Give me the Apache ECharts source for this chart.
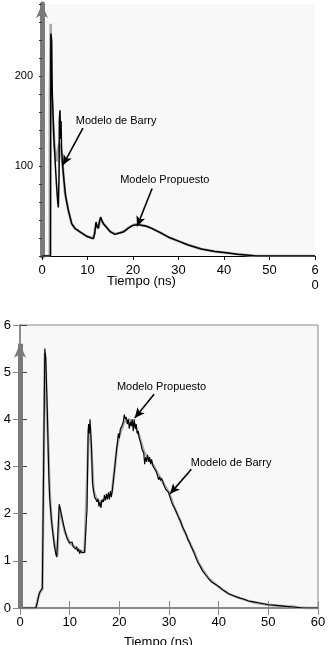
<!DOCTYPE html>
<html>
<head>
<meta charset="utf-8">
<script src="https://cdn.jsdelivr.net/npm/echarts@6/dist/echarts.min.js"></script>
<style>
  html, body { margin: 0; padding: 0; background: #fff; }
  #chart { width: 330px; height: 645px; }
</style>
</head>
<body>
<div id="chart"></div>
<script>
// panel superior: [tiempo (ns), valor]
const topBarry = [[0,0],[1.88,0],[1.95,247],[2.12,240],[2.2,200],[2.27,180],[2.64,128],[3.0,95],[3.23,76],[3.45,60],[3.59,54],[3.75,90],[3.81,150],[3.96,162],[4.05,130],[4.18,150],[4.3,120],[4.54,100],[4.83,84],[5.2,66],[5.78,51],[6.52,36],[7.25,30.6],[8.35,26.7],[9.8,22],[11.28,19.3],[11.6,25],[11.87,37.8],[12.1,33],[12.38,30.6],[12.6,38],[12.89,43.3],[13.1,40],[13.48,35.9],[14,33],[15,27],[16,24],[17,25.5],[18,27],[19,31],[20,34],[21,35],[22,34],[23,33],[24,31],[26,26],[28,20.5],[30,16.5],[32,12.5],[35,7.8],[38,5],[40,4],[43,2],[46,0.6],[47,0],[60,0]]
const topPropuesto = [[0,0],[1.7,0],[1.72,175],[1.85,175],[1.92,258],[2.05,185],[2.4,150],[2.8,118],[3.2,105],[3.5,118],[3.8,125],[4.0,125],[4.3,110],[4.6,98],[5.0,72],[5.78,51],[6.52,36],[7.25,30.6],[8.35,26.7],[9.8,22],[11.28,19.5],[11.9,36],[12.4,31],[12.9,42],[13.5,36],[14,33],[15,27],[16,24.5],[17,25.5],[18,27.5],[19,31.5],[20,34.5],[21,35.5],[22,34.5],[23,33],[24,31],[26,26],[28,20.5],[30,16.5],[32,12.5],[35,7.8],[38,5],[40,4],[43,2],[46,0.6],[47,0],[60,0]]

// panel inferior
const botBarry = [[0,0],[3.2,0],[3.5,0.12],[3.8,0.28],[4.1,0.36],[4.5,0.42],[4.9,0.45],[5.0,5.5],[5.2,5.3],[5.35,4.7],[5.5,4.2],[5.6,3.7],[5.8,2.8],[6.0,2.3],[6.3,1.9],[6.6,1.6],[6.9,1.35],[7.2,1.15],[7.4,1.08],[7.6,1.12],[7.75,1.08],[7.9,2.2],[8.2,2.05],[8.5,1.9],[8.8,1.75],[9.1,1.62],[9.4,1.5],[9.7,1.43],[10.0,1.38],[10.3,1.35],[10.5,1.4],[10.7,1.3],[11.0,1.33],[11.2,1.25],[11.4,1.3],[11.6,1.2],[11.8,1.25],[12.0,1.15],[12.2,1.22],[12.4,1.17],[12.6,1.2],[12.8,1.15],[13.0,1.18],[13.2,1.15],[13.35,1.2],[13.5,2.1],[13.7,3.6],[13.8,3.9],[13.95,3.7],[14.1,4.0],[14.25,3.7],[14.4,3.4],[14.6,2.65],[14.8,2.5],[15.0,2.35],[15.3,2.3],[15.5,2.25],[15.7,2.32],[15.9,2.15],[16.1,2.25],[16.3,2.12],[16.5,2.3],[16.8,2.25],[17.0,2.4],[17.2,2.28],[17.4,2.42],[17.6,2.3],[17.8,2.45],[18.0,2.3],[18.2,2.48],[18.4,2.35],[18.6,2.5],[18.9,2.8],[19.2,3.1],[19.5,3.4],[19.8,3.7],[20.0,3.6],[20.2,3.8],[20.5,3.85],[20.8,3.95],[21.0,4.1],[21.2,4.0],[21.4,4.05],[21.6,3.9],[21.8,4.0],[22.0,3.8],[22.2,3.95],[22.4,3.85],[22.6,4.0],[22.8,3.75],[23.0,4.0],[23.2,3.8],[23.4,3.9],[23.6,3.7],[23.8,3.75],[24.0,3.6],[24.3,3.5],[24.6,3.35],[24.9,3.3],[25.1,3.05],[25.3,3.2],[25.5,3.1],[25.7,3.25],[25.9,3.1],[26.1,3.2],[26.3,3.05],[26.5,3.15],[26.8,3.0],[27.1,3.0],[27.4,2.9],[27.7,2.8],[27.9,2.72],[28.1,2.78],[28.3,2.7],[28.5,2.75],[28.7,2.7],[29.0,2.6],[29.3,2.52],[29.6,2.48],[29.9,2.45],[30.2,2.35],[30.5,2.25],[30.8,2.18],[31.1,2.12],[31.4,2.05],[31.7,1.98],[32.0,1.9],[32.3,1.85],[32.6,1.75],[32.9,1.68],[33.2,1.62],[33.5,1.55],[33.8,1.45],[34.1,1.4],[34.4,1.32],[34.7,1.25],[35.0,1.18],[35.3,1.1],[35.6,1.02],[35.9,0.95],[36.2,0.9],[36.5,0.84],[36.8,0.78],[37.1,0.75],[37.4,0.7],[37.7,0.66],[38.0,0.62],[38.3,0.6],[38.6,0.55],[39.0,0.52],[39.4,0.5],[39.8,0.46],[40.2,0.44],[40.6,0.4],[41.0,0.37],[41.5,0.34],[42.0,0.3],[42.5,0.28],[43.0,0.26],[43.5,0.24],[44.0,0.22],[44.5,0.2],[45.0,0.19],[45.5,0.17],[46.0,0.15],[47.0,0.13],[48.0,0.11],[49.0,0.09],[50.0,0.07],[51.0,0.06],[52.0,0.05],[53.0,0.04],[54.0,0.03],[55.0,0.02],[56.0,0.01],[57.0,0],[60,0]]
const botPropuesto = [[0,0],[3.2,0],[3.6,0.2],[4.0,0.33],[4.5,0.4],[4.9,0.44],[5.0,5.4],[5.2,5.0],[5.4,4.3],[5.7,3.4],[6.0,2.4],[6.4,1.8],[7.0,1.3],[7.5,1.1],[7.8,1.1],[7.95,2.15],[8.5,1.85],[9.0,1.62],[10,1.38],[11,1.3],[12,1.22],[13,1.18],[13.4,1.2],[13.6,3.0],[13.8,3.8],[14.1,3.85],[14.4,3.3],[14.8,2.5],[15.5,2.28],[16.5,2.25],[17.5,2.35],[18.5,2.45],[19.0,2.9],[19.5,3.4],[20,3.65],[21,3.95],[22,4.0],[23,3.92],[24,3.65],[25,3.3],[26,3.15],[27,3.0],[28,2.8],[29,2.62],[30,2.45],[31,2.15],[32,1.92],[33,1.65],[34,1.42],[35,1.2],[36,0.95],[37,0.77],[38,0.63],[39,0.53],[40,0.45],[42,0.3],[44,0.22],[46,0.15],[48,0.1],[50,0.07],[52,0.05],[54,0.03],[55,0.03],[56,0.01],[58,0],[60,0]]

// anotaciones: [texto, posición del texto, inicio flecha, punta flecha]
const topNotes = [
  ['Modelo de Barry', [16.3, 150], [9.0, 142], [4.6, 101]],
  ['Modelo Propuesto', [27, 84], [24.2, 75], [20.9, 33]]
]
const botNotes = [
  ['Modelo Propuesto', [28.5, 4.69], [27.0, 4.53], [23.1, 4.03]],
  ['Modelo de Barry', [42.5, 3.08], [34.5, 2.94], [30.2, 2.42]]
]
const botArrow = [[0, 0], [0, 5.6]]

const FONT = 'Liberation Sans'

const noteMarks = (notes) => ({
  markLine: {
    silent: true,
    symbol: ['none', 'arrow'],
    symbolSize: [7, 10],
    label: { show: false },
    lineStyle: { color: '#000', width: 1.6, type: 'solid' },
    data: notes.map(n => [{ coord: n[2] }, { coord: n[3] }]),
  },
  markPoint: {
    silent: true,
    symbol: 'circle',
    symbolSize: 0,
    label: {
      show: true,
      position: 'inside',
      color: '#000',
      fontFamily: FONT,
      fontSize: 11,
      formatter: p => p.name,
    },
    data: notes.map(n => ({ name: n[0], coord: n[1] })),
  },
})

const chart = echarts.init(document.getElementById('chart'), null, { renderer: 'canvas' })

chart.setOption({
  animation: false,
  backgroundColor: '#fff',
  textStyle: { fontFamily: FONT },
  grid: [
    { left: 42, top: 4, width: 273, height: 252, show: true, backgroundColor: '#f8f8f8', borderWidth: 0 },
    { left: 20, top: 325, width: 298, height: 283, show: true, backgroundColor: '#f8f8f8', borderColor: '#8a8a8a', borderWidth: 1 },
  ],
  xAxis: [
    {
      gridIndex: 0, type: 'value', min: 0, max: 60, interval: 10,
      axisLine: { lineStyle: { color: '#000', width: 1 } },
      axisTick: { show: true, length: 4, lineStyle: { color: '#000' } },
      axisLabel: {
        color: '#000', fontSize: 13, margin: 7, lineHeight: 15,
        formatter: v => (v === 60 ? '6\n0' : String(v)),
      },
      splitLine: { show: false },
    },
    {
      gridIndex: 1, type: 'value', min: 0, max: 60, interval: 10,
      axisLine: { lineStyle: { color: '#8a8a8a', width: 2 } },
      axisTick: { show: true, inside: true, length: 7, lineStyle: { color: '#8a8a8a' } },
      axisLabel: { color: '#000', fontSize: 13, margin: 8 },
      splitLine: { show: false },
    },
    {
      gridIndex: 1, type: 'value', position: 'top', min: 0, max: 60, interval: 10,
      axisLine: { lineStyle: { color: '#8a8a8a', width: 1.5 } },
      axisTick: { show: true, inside: true, length: 7, lineStyle: { color: '#8a8a8a' } },
      axisLabel: { show: false },
      splitLine: { show: false },
    },
  ],
  yAxis: [
    {
      gridIndex: 0, type: 'value', min: 0, max: 280, interval: 100,
      axisLine: {
        show: true, symbol: ['none', 'arrow'], symbolSize: [9, 14],
        lineStyle: { color: '#7a7a7a', width: 5 },
      },
      axisTick: { show: true, length: 3, lineStyle: { color: '#333' } },
      minorTick: { show: true, splitNumber: 5, length: 3, lineStyle: { color: '#333' } },
      axisLabel: {
        color: '#000', fontSize: 11, margin: 9,
        formatter: v => (v === 100 || v === 200 ? String(v) : ''),
      },
      splitLine: { show: false },
    },
    {
      gridIndex: 1, type: 'value', min: 0, max: 6, interval: 1,
      axisLine: { show: true, lineStyle: { color: '#8a8a8a', width: 1.5 } },
      axisTick: { show: true, inside: true, length: 7, lineStyle: { color: '#444' } },
      axisLabel: { color: '#000', fontSize: 13, margin: 9 },
      splitLine: { show: false },
    },
    {
      gridIndex: 1, type: 'value', position: 'right', min: 0, max: 6, interval: 1,
      axisLine: { show: true, lineStyle: { color: '#8a8a8a', width: 1.5 } },
      axisTick: { show: true, inside: true, length: 7, lineStyle: { color: '#8a8a8a' } },
      axisLabel: { show: false },
      splitLine: { show: false },
    },
  ],
  graphic: [
    { type: 'text', left: 141 - 34, top: 275, style: { text: 'Tiempo (ns)', fill: '#000', font: '13px "Liberation Sans"' } },
    { type: 'text', left: 158 - 34, top: 636, style: { text: 'Tiempo (ns)', fill: '#000', font: '13px "Liberation Sans"' } },
  ],
  series: [
    {
      name: 'Modelo Propuesto', type: 'line', xAxisIndex: 0, yAxisIndex: 0,
      data: topPropuesto, showSymbol: false, silent: true,
      lineStyle: { color: '#a8a8a8', width: 2.5 },
    },
    Object.assign({
      name: 'Modelo de Barry', type: 'line', xAxisIndex: 0, yAxisIndex: 0,
      data: topBarry, showSymbol: false, silent: true,
      lineStyle: { color: '#000', width: 1.5 },
    }, noteMarks(topNotes)),
    {
      name: 'Modelo Propuesto', type: 'line', xAxisIndex: 1, yAxisIndex: 1,
      data: botPropuesto, showSymbol: false, silent: true, clip: false,
      lineStyle: { color: '#a8a8a8', width: 2.5 },
      markLine: {
        silent: true,
        symbol: ['none', 'arrow'],
        symbolSize: [9, 14],
        label: { show: false },
        lineStyle: { color: '#7a7a7a', width: 5, type: 'solid' },
        data: [[{ coord: botArrow[0] }, { coord: botArrow[1] }]],
      },
    },
    Object.assign({
      name: 'Modelo de Barry', type: 'line', xAxisIndex: 1, yAxisIndex: 1,
      data: botBarry, showSymbol: false, silent: true,
      lineStyle: { color: '#000', width: 1.1 },
    }, noteMarks(botNotes)),
  ],
})
</script>
</body>
</html>
